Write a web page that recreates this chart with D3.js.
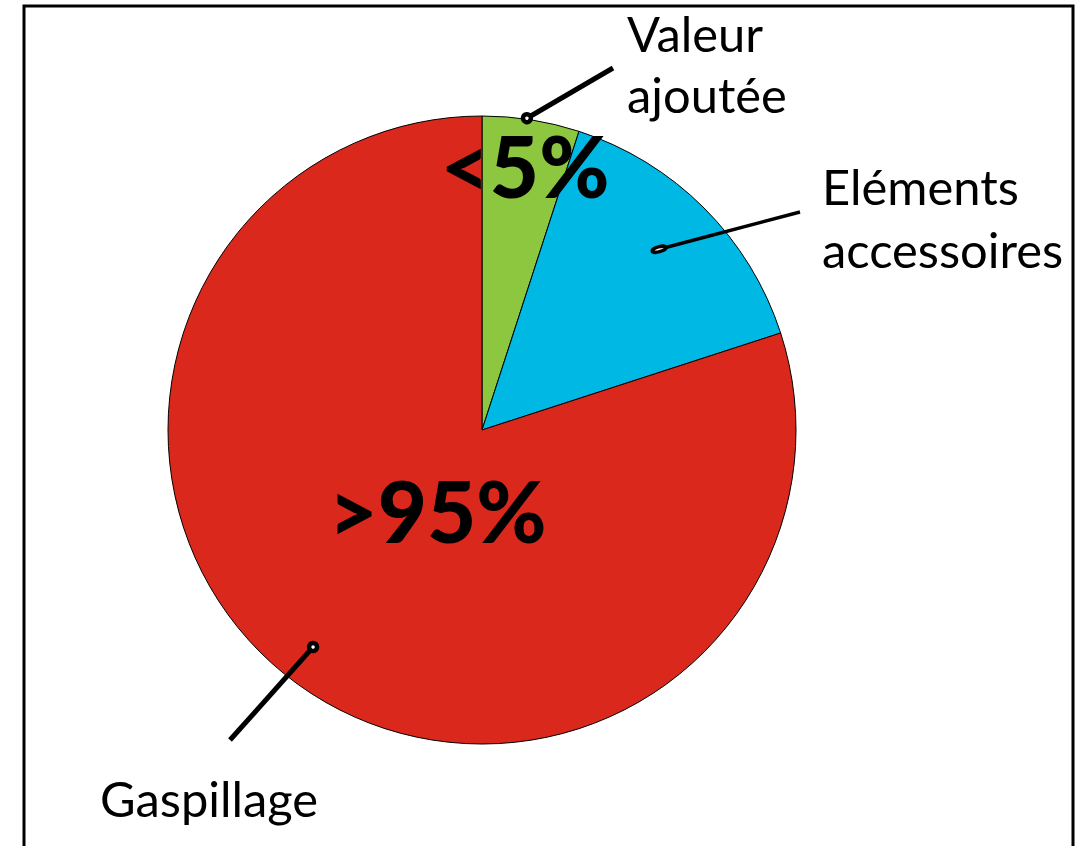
<!DOCTYPE html>
<html>
<head>
<meta charset="utf-8">
<script src="https://cdn.jsdelivr.net/npm/d3@7"></script>
<style>
  html, body { margin: 0; padding: 0; background: #fff; }
  svg { display: block; }
</style>
</head>
<body>
<svg id="chart" width="1084" height="846"></svg>
<script>
// ---- data ----
const categories = ["Valeur ajoutée", "Eléments accessoires", "Gaspillage"];
const values = [5, 15, 80];
const colors = ["#8DC63F", "#00B8E4", "#DA291C"];
const labelLines = [["Valeur", "ajoutée"], ["Eléments", "accessoires"], ["Gaspillage"]];
const percentLabels = ["<5%", null, ">95%"];

// ---- layout ----
const W = 1084, H = 846;
const cx = 482, cy = 430, R = 314;
const svg = d3.select("#chart");

// frame (open at bottom)
svg.append("path")
  .attr("d", `M24,${H + 5} L24,6 L1073,6 L1073,${H + 5}`)
  .attr("fill", "none").attr("stroke", "#000").attr("stroke-width", 3);

const g = svg.append("g").attr("transform", `translate(${cx},${cy})`);
const pie = d3.pie().sort(null).value(d => d)(values);
const arc = d3.arc().innerRadius(0).outerRadius(R);

g.selectAll("path.slice").data(pie).join("path")
  .attr("class", "slice")
  .attr("d", arc)
  .attr("fill", (d, i) => colors[i])
  .attr("stroke", "#000").attr("stroke-width", 1);

// pointer settings per category
const pointer = [
  { r: 315, angOff: -0.8, end: [613, 68], w: 5, rx: 4, ry: 4, sw: 4.5 },
  { r: 253, angOff: -0.6, end: [800, 212], w: 3.5, rx: 7, ry: 2.5, sw: 3.5 },
  { r: 275, angOff: 1.9, end: [230, 740], w: 5, rx: 4, ry: 4, sw: 4.5 }
];
const toRad = Math.PI / 180;
pie.forEach((d, i) => {
  const p = pointer[i];
  const a = (d.startAngle + d.endAngle) / 2 + p.angOff * toRad;
  const x = cx + p.r * Math.sin(a), y = cy - p.r * Math.cos(a);
  const ang = Math.atan2(p.end[1] - y, p.end[0] - x) / toRad;
  svg.append("line")
    .attr("x1", x).attr("y1", y).attr("x2", p.end[0]).attr("y2", p.end[1])
    .attr("stroke", "#000").attr("stroke-width", p.w);
  svg.append("ellipse")
    .attr("cx", x).attr("cy", y).attr("rx", p.rx).attr("ry", p.ry)
    .attr("transform", `rotate(${ang},${x},${y})`)
    .attr("fill", "#fff").attr("stroke", "#000").attr("stroke-width", p.sw);
});

// category labels
const labelPos = [
  { x: 627, y: [52, 113], w: [135, 160] },
  { x: 822, y: [205, 268], w: [196, 240] },
  { x: 100, y: [817], w: [222] }
];
const font = "Lato, 'Open Sans', sans-serif";
const textNodes = [];
labelLines.forEach((lines, i) => {
  lines.forEach((t, j) => {
    const n = svg.append("text")
      .attr("x", labelPos[i].x).attr("y", labelPos[i].y[j])
      .attr("font-family", font).attr("font-size", 50)
      .attr("fill", "#000").text(t);
    textNodes.push({ n, target: labelPos[i].w[j] });
  });
});
let s = d3.mean(textNodes, d => d.target / d.n.node().getComputedTextLength());
textNodes.forEach(d => d.n.attr("font-size", 50 * s));

// percent labels
const pctPos = [
  { x: 525, y: 198, w: 160 }, null, { x: 437.5, y: 543, w: 205 }
];
const pctNodes = [];
percentLabels.forEach((t, i) => {
  if (!t) return;
  const n = svg.append("text")
    .attr("x", pctPos[i].x).attr("y", pctPos[i].y)
    .attr("text-anchor", "middle")
    .attr("font-family", font).attr("font-weight", 900)
    .attr("font-size", 90).attr("fill", "#000").text(t);
  pctNodes.push({ n, target: pctPos[i].w });
});
let s2 = 1.06 * d3.mean(pctNodes, d => d.target / d.n.node().getComputedTextLength());
pctNodes.forEach(d => d.n.attr("font-size", 90 * s2));
</script>
</body>
</html>
